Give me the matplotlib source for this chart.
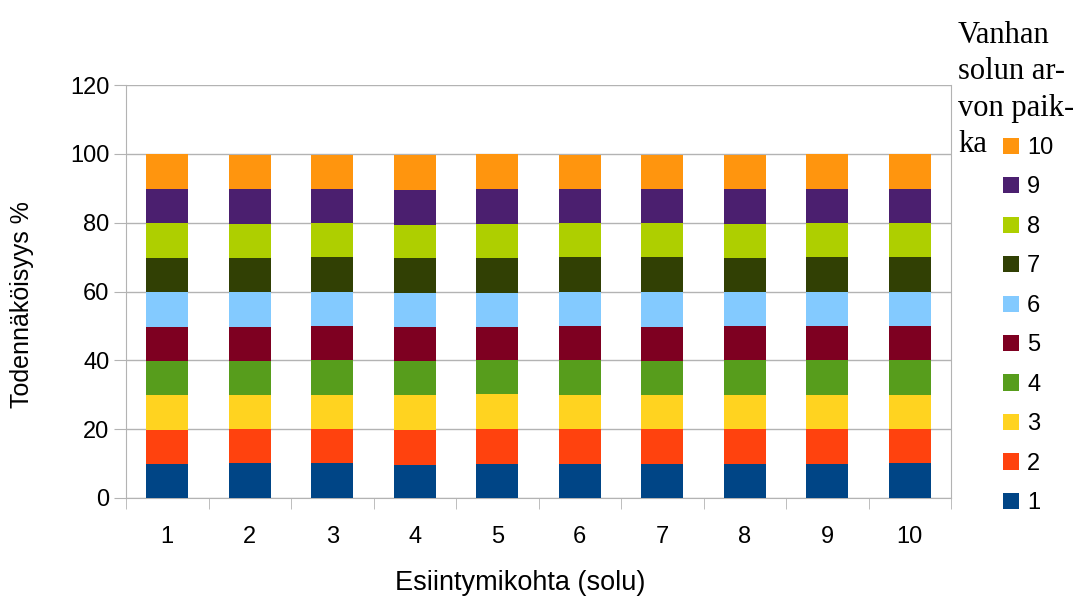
import numpy as np
import matplotlib
matplotlib.use("Agg")
import matplotlib.pyplot as plt
from matplotlib.patches import Patch

plt.rcParams['font.family'] = ['Liberation Sans', 'DejaVu Sans']

# esiintymiskohdat 1..10
positions = np.arange(1, 11)
series_names = ['1', '2', '3', '4', '5', '6', '7', '8', '9', '10']
legend_title = ['Vanhan', 'solun ar-', 'von paik-', 'ka']

s1 = [9.9, 10.1, 10.1, 9.6, 9.9, 9.9, 9.9, 9.9, 9.9, 10.1]
s2 = [9.9, 9.9, 9.9, 10.1, 10.1, 10.1, 10.1, 10.1, 10.1, 9.9]
s3 = [10.1, 9.9, 9.9, 10.1, 10.1, 9.9, 9.9, 9.9, 9.9, 9.9]
s4 = [9.9, 9.9, 10.1, 9.9, 9.9, 10.1, 9.9, 10.1, 10.1, 10.1]
s5 = [9.9, 9.9, 9.9, 10.1, 9.6, 10.1, 9.9, 9.9, 9.9, 9.9]
s6 = [10.1, 10.1, 9.9, 9.9, 10.1, 9.9, 10.1, 9.9, 9.9, 9.9]
s7 = [9.9, 9.9, 10.1, 10.1, 10.1, 9.9, 10.1, 9.9, 10.1, 10.1]
s8 = [10.1, 9.9, 9.9, 9.6, 9.9, 9.9, 9.9, 9.9, 9.9, 9.9]
s9 = [10.1, 10.1, 9.9, 10.1, 10.1, 10.1, 9.9, 10.1, 10.1, 10.1]
s10 = [10.1, 10.1, 10.1, 10.1, 10.1, 9.9, 10.1, 10.1, 10.1, 10.1]
series = [s1, s2, s3, s4, s5, s6, s7, s8, s9, s10]

colors = ['#004586', '#ff420e', '#ffd320', '#579d1c', '#7e0021',
          '#83caff', '#314004', '#aecf00', '#4b1f6f', '#ff950e']

W, H = 1074, 596
fig = plt.figure(figsize=(W / 100, H / 100), dpi=100)
ax = fig.add_axes([126 / W, 1 - 498 / H, (951 - 126) / W, (498 - 85) / H])

bottom = np.zeros(len(positions))
for vals, c in zip(series, colors):
    ax.bar(positions, vals, width=0.51, bottom=bottom, color=c, zorder=3)
    bottom += np.array(vals)

grid_c = '#b3b3b3'
ax.set_ylim(0, 120)
ax.set_xlim(0.5, 10.5)
ax.set_yticks(range(0, 121, 20))
ax.yaxis.grid(True, color=grid_c, linewidth=1, zorder=0)
for s in ax.spines.values():
    s.set_color(grid_c)
ax.spines['top'].set_visible(False)

ax.set_xticks(positions)
ax.set_xticklabels([str(p) for p in positions])
ax.set_xticks(np.arange(0.5, 11, 1), minor=True)
ax.tick_params(axis='x', which='major', length=0, labelsize=17, pad=20)
ax.tick_params(axis='x', which='minor', length=8, color=grid_c)
ax.tick_params(axis='y', length=9, color=grid_c, labelsize=17, pad=3)

# akselien otsikot
fig.text(22 / W, 1 - 305 / H, 'Todennäköisyys %', fontsize=18,
         rotation=90, ha='center', va='center')
fig.text(520 / W, 1 - 583 / H, 'Esiintymikohta (solu)', fontsize=19.5,
         ha='center', va='center')

handles = [Patch(facecolor=c) for c in colors][::-1]
fig.legend(handles, series_names[::-1], loc='upper left',
           bbox_to_anchor=(1003 / W, 1 - 137 / H), frameon=False,
           fontsize=17, handlelength=0.68, handleheight=0.68,
           handletextpad=0.34, labelspacing=0.74, borderpad=0, borderaxespad=0)

# selitteen otsikko rivi kerrallaan, viimeinen rivi samalla korkeudella kuin "10"
for i, line in enumerate(legend_title):
    fig.text(958 / W, 1 - (43 + 36.3 * i) / H, line,
             family=['Liberation Serif', 'DejaVu Serif'], fontsize=22,
             va='baseline', ha='left')

fig.savefig('out.png', dpi=100)
